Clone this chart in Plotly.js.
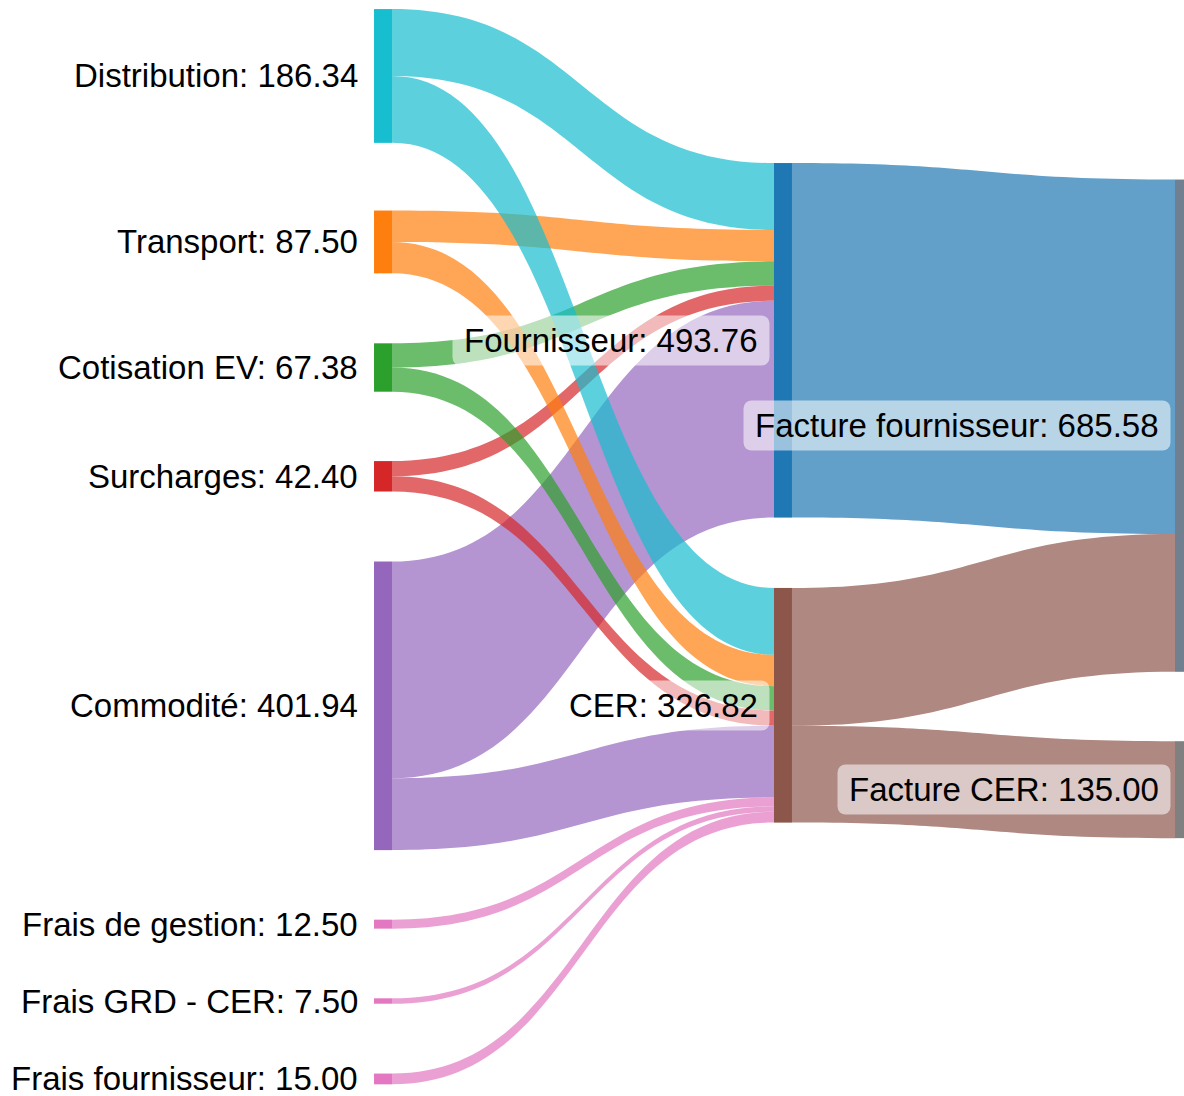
<!DOCTYPE html>
<html>
<head>
<meta charset="utf-8">
<script src="https://cdn.plot.ly/plotly-3.0.1.min.js"></script>
<style>html,body{margin:0;padding:0;overflow:hidden;background:#fff}</style>
</head>
<body>
<div id="chart" style="width:1184px;height:1096px"></div>
<script>
// ---- data ----
const nodeNames = ['Distribution', 'Transport', 'Cotisation EV', 'Surcharges', 'Commodité',
  'Frais de gestion', 'Frais GRD - CER', 'Frais fournisseur',
  'Fournisseur', 'CER', 'Facture fournisseur', 'Facture CER'];
const linkSource = [0, 1, 2, 3, 4, 0, 1, 2, 3, 4, 5, 6, 7, 8, 9, 9];
const linkTarget = [8, 8, 8, 8, 8, 9, 9, 9, 9, 9, 9, 9, 9, 10, 10, 11];
const linkValue = [93.17, 43.75, 33.69, 21.20, 301.95,
  93.17, 43.75, 33.69, 21.20, 99.99, 12.50, 7.50, 15.00,
  493.76, 191.82, 135.00];

// ---- layout (positions / styles) ----
const nodeColors = ['#17becf', '#ff7f0e', '#2ca02c', '#d62728', '#9467bd',
  '#e377c2', '#e377c2', '#e377c2', '#1f77b4', '#8c564b', '#708090', '#808080'];
const nodeX = [0.3235, 0.3235, 0.3235, 0.3235, 0.3235, 0.3235, 0.3235, 0.3235,
  0.6613, 0.6613, 1.0, 1.0];
const nodeY = [0.0623, 0.2167, 0.3335, 0.4347, 0.6482, 0.8513, 0.9228, 0.9953,
  0.3082, 0.6477, 0.3876, 0.7262];
const thickness = 18;
const labelFont = {family: 'Liberation Sans, Arial, sans-serif', size: 33, color: '#000'};

function hexToRgba(hex, a) {
  const n = parseInt(hex.slice(1), 16);
  return `rgba(${(n >> 16) & 255},${(n >> 8) & 255},${n & 255},${a})`;
}

// node value = max(incoming, outgoing)
const inSum = nodeNames.map(() => 0), outSum = nodeNames.map(() => 0);
linkValue.forEach((v, i) => { outSum[linkSource[i]] += v; inSum[linkTarget[i]] += v; });
const nodeValue = nodeNames.map((_, i) => Math.max(inSum[i], outSum[i]));

const ctx = document.createElement('canvas').getContext('2d');
ctx.font = labelFont.size + 'px "Liberation Sans", Arial, sans-serif';

const trace = {
  type: 'sankey',
  arrangement: 'fixed',
  node: {
    label: nodeNames.map(() => ''),
    customdata: nodeNames,
    hovertemplate: '%{customdata}: %{value:.2f}<extra></extra>',
    color: nodeColors,
    x: nodeX,
    y: nodeY,
    pad: 69.4,
    thickness: thickness,
    line: {width: 0}
  },
  link: {
    source: linkSource,
    target: linkTarget,
    value: linkValue,
    color: linkSource.map(s => hexToRgba(nodeColors[s], 0.7)),
    line: {width: 0}
  }
};

const annotations = nodeNames.map((name, i) => {
  const txt = name + ': ' + nodeValue[i].toFixed(2);
  return {
    text: txt,
    xref: 'paper', yref: 'paper',
    x: nodeX[i], y: 1 - nodeY[i],
    xanchor: 'right', yanchor: 'middle',
    xshift: -(thickness / 2 + 4),
    width: ctx.measureText(txt).width + 10,
    align: 'center',
    showarrow: false,
    bgcolor: 'rgba(255,255,255,0.55)',
    borderpad: 6,
    font: labelFont
  };
});

const layout = {
  width: 1184, height: 1096,
  margin: {l: 0, r: 0, t: 9, b: 12},
  paper_bgcolor: '#fff',
  font: labelFont,
  annotations: annotations
};

Plotly.newPlot('chart', [trace], layout, {displayModeBar: false}).then(() => {
  document.querySelectorAll('g.annotation rect.bg').forEach(r => {
    r.setAttribute('rx', 8); r.setAttribute('ry', 8);
  });
});
</script>
</body>
</html>
